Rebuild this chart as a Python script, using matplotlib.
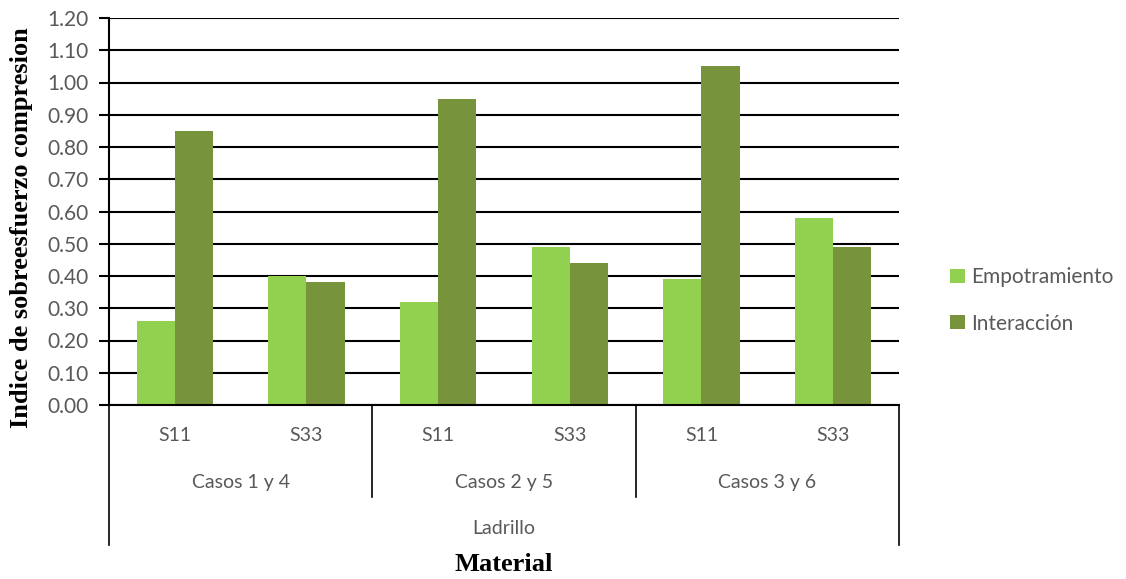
import matplotlib
matplotlib.use("Agg")
import matplotlib.pyplot as plt
import numpy as np

# Data
groups = ["Casos 1 y 4", "Casos 2 y 5", "Casos 3 y 6"]
components = ["S11", "S33"]
material = "Ladrillo"
empotramiento = [0.26, 0.40, 0.32, 0.49, 0.39, 0.58]
interaccion = [0.85, 0.38, 0.95, 0.44, 1.05, 0.49]
series_names = ["Empotramiento", "Interacción"]
yticks = [round(0.1 * i, 2) for i in range(13)]

c_light = "#92D050"
c_dark = "#77933C"
tick_color = "#595959"
sans = "Lato"
serif = "Liberation Serif"
fs = 14

fig = plt.figure(figsize=(11.26, 5.79), dpi=100)
ax = fig.add_axes([109 / 1126, 1 - 405 / 579, 790 / 1126, 387 / 579])

n = len(empotramiento)
x = np.arange(n)
w = 0.29
b1 = ax.bar(x - w / 2, empotramiento, width=w, color=c_light, label=series_names[0], zorder=3)
b2 = ax.bar(x + w / 2, interaccion, width=w, color=c_dark, label=series_names[1], zorder=3)

ax.set_xlim(-0.5, n - 0.5)
ax.set_ylim(0, 1.2)
ax.set_yticks(yticks)
ax.set_yticklabels([f"{v:.2f}" for v in yticks], fontsize=15, color=tick_color, family=sans)
ax.tick_params(axis="y", length=7, width=1.5, color="black", pad=8)
ax.set_xticks([])
ax.grid(axis="y", color="black", linewidth=1.5, zorder=0)
ax.set_axisbelow(True)

for side in ["top", "right"]:
    ax.spines[side].set_visible(False)
ax.spines["left"].set_linewidth(1.5)
ax.spines["bottom"].set_linewidth(1.5)
ax.spines["bottom"].set_zorder(4)

# Multi-level category axis
trans = ax.get_xaxis_transform()
for i in range(n):
    ax.text(x[i], -0.08, components[i % 2], transform=trans, ha="center", va="center",
            fontsize=fs, color=tick_color, family=sans)
for g, name in enumerate(groups):
    ax.text(2 * g + 0.5, -0.199, name, transform=trans, ha="center", va="center",
            fontsize=fs, color=tick_color, family=sans)
ax.text((n - 1) / 2, -0.318, material, transform=trans, ha="center", va="center",
        fontsize=fs, color=tick_color, family=sans)

for xb in [1.5, 3.5]:
    ax.plot([xb, xb], [0, -0.238], transform=trans, color="black", lw=1.2, clip_on=False)
for xb in [-0.5, n - 0.5]:
    ax.plot([xb, xb], [0, -0.362], transform=trans, color="black", lw=1.2, clip_on=False)

ax.text((n - 1) / 2, -0.413, "Material", transform=trans, ha="center", va="center",
        fontsize=19, fontweight="bold", family=serif)
fig.text(22 / 1126, 1 - 228 / 579, "Indice de sobreesfuerzo compresion", rotation=90,
         ha="center", va="center", fontsize=19, fontweight="bold", family=serif)

leg = fig.legend(handles=[b1, b2], labels=series_names, loc="center left",
                 bbox_to_anchor=(940 / 1126, 1 - 300.5 / 579), frameon=False,
                 borderpad=0, handlelength=0.68, handleheight=0.68, handletextpad=0.32,
                 labelspacing=1.25, prop={"family": sans, "size": 15})
for t in leg.get_texts():
    t.set_color(tick_color)

fig.savefig("out.png", dpi=100)
